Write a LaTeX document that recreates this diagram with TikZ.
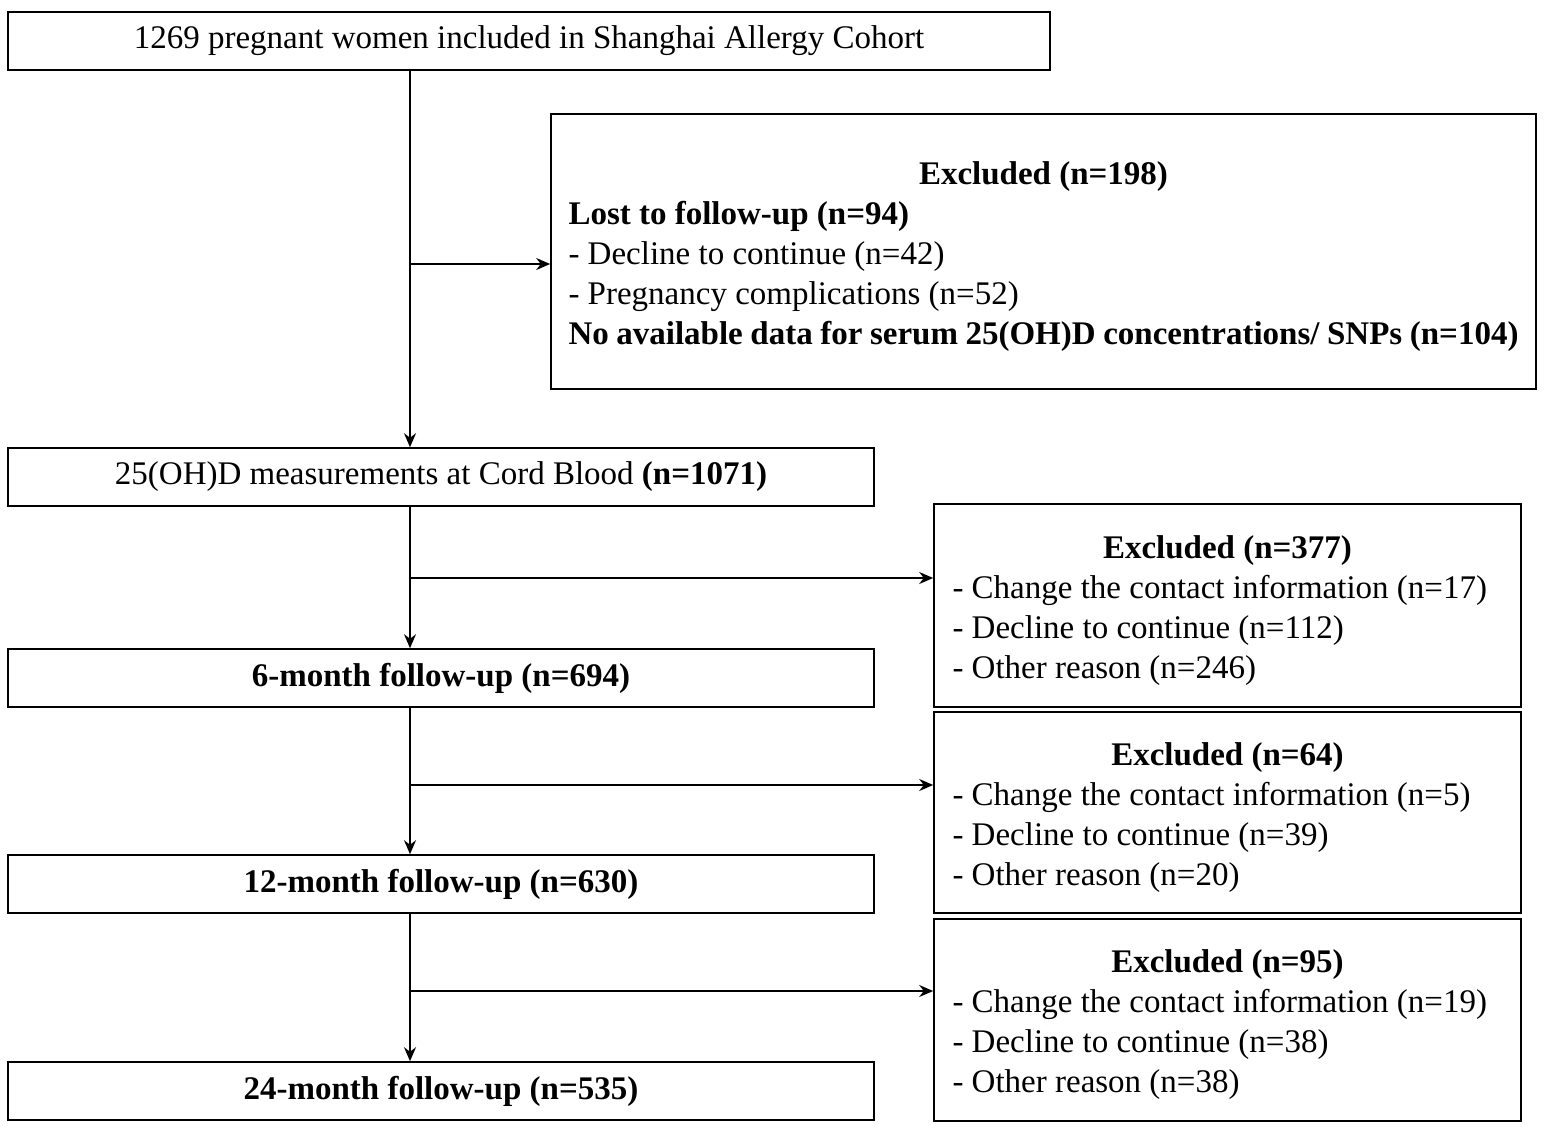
\documentclass[tikz,border=0pt]{standalone}
\usepackage{fontspec}
\setmainfont{Liberation Serif}
\usetikzlibrary{arrows.meta}
\tikzset{
  stagebox/.style={draw,thick,minimum height=29pt,inner sep=0pt,font=\fontsize{16.5}{20}\selectfont},
  exclbox/.style={draw,thick,inner sep=0pt,font=\fontsize{16.5}{20}\selectfont},
  flow/.style={thick,-{Stealth[length=7pt,width=6pt]}}
}
\begin{document}
\begin{tikzpicture}[x=0.5pt,y=-0.5pt]
	\useasboundingbox (0,0) rectangle (1547,1135);

	% Boxes of the main column
	\node[stagebox,minimum width=521pt] (cohort) at (529,41) {\raisebox{-3pt}{1269 pregnant women included in Shanghai Allergy Cohort}};
	\node[stagebox,minimum width=433pt] (cord) at (441,477) {\raisebox{-3pt}{25(OH)D measurements at Cord Blood \textbf{(n=1071)}}};
	\node[stagebox,minimum width=433pt] (m6) at (441,678) {\raisebox{-3pt}{\textbf{6-month follow-up (n=694)}}};
	\node[stagebox,minimum width=433pt] (m12) at (441,884) {\raisebox{-3pt}{\textbf{12-month follow-up (n=630)}}};
	\node[stagebox,minimum width=433pt] (m24) at (441,1091) {\raisebox{-3pt}{\textbf{24-month follow-up (n=535)}}};

	% Exclusion boxes
	\node[exclbox,minimum width=492.5pt,minimum height=137.5pt] (ex198) at (1043.5,251.5) {%
		\parbox{475pt}{\vspace*{5pt}\centering\textbf{Excluded (n=198)}\par\raggedright
		\textbf{Lost to follow-up (n=94)}\\
		- Decline to continue (n=42)\\
		- Pregnancy complications (n=52)\\
		\textbf{No available data for serum 25(OH)D concentrations/ SNPs (n=104)}}};
	\node[exclbox,minimum width=293.5pt,minimum height=101.5pt] (ex377) at (1227.5,605.5) {%
		\parbox{275pt}{\vspace*{5pt}\centering\textbf{Excluded (n=377)}\par\raggedright
		- Change the contact information (n=17)\\
		- Decline to continue (n=112)\\
		- Other reason (n=246)}};
	\node[exclbox,minimum width=293.5pt,minimum height=100.5pt] (ex64) at (1227.5,812.5) {%
		\parbox{275pt}{\vspace*{5pt}\centering\textbf{Excluded (n=64)}\par\raggedright
		- Change the contact information (n=5)\\
		- Decline to continue (n=39)\\
		- Other reason (n=20)}};
	\node[exclbox,minimum width=293.5pt,minimum height=101pt] (ex95) at (1227.5,1020) {%
		\parbox{275pt}{\vspace*{5pt}\centering\textbf{Excluded (n=95)}\par\raggedright
		- Change the contact information (n=19)\\
		- Decline to continue (n=38)\\
		- Other reason (n=38)}};

	% Arrows down the column
	\draw[flow] (cohort.south -| 410,0) -- (cord.north -| 410,0);
	\draw[flow] (cord.south -| 410,0) -- (m6.north -| 410,0);
	\draw[flow] (m6.south -| 410,0) -- (m12.north -| 410,0);
	\draw[flow] (m12.south -| 410,0) -- (m24.north -| 410,0);

	% Side arrows to the exclusions
	\draw[flow] (410,264) -- (ex198.west |- 0,264);
	\draw[flow] (410,578) -- (ex377.west |- 0,578);
	\draw[flow] (410,785) -- (ex64.west |- 0,785);
	\draw[flow] (410,991) -- (ex95.west |- 0,991);
\end{tikzpicture}
\end{document}
